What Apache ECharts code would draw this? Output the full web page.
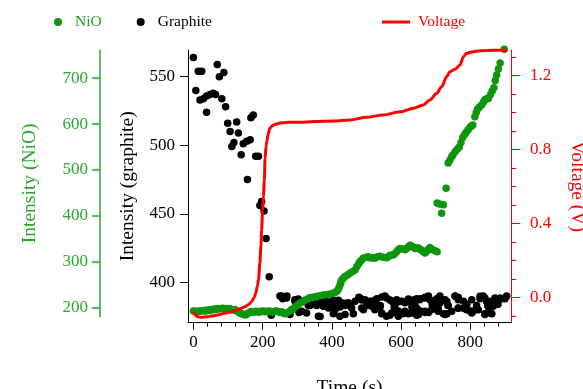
<!DOCTYPE html>
<html>
<head>
<meta charset="utf-8">
<script src="https://cdn.jsdelivr.net/npm/echarts@6/dist/echarts.min.js"></script>
<style>
  html, body { margin: 0; padding: 0; background: #ffffff; }
  #chart { width: 583px; height: 389px; }
</style>
</head>
<body>
<div id="chart"></div>
<script>
// ---- Measured series -------------------------------------------------------
// NiO peak intensity (left, green axis) vs time in seconds
const nioTime = [
  0, 5, 10, 15, 20, 25, 30, 35, 40, 45, 50, 55, 60, 65, 70, 75, 80, 85, 90, 95,
  100, 105, 110, 115, 120, 125, 130, 135, 140, 145, 150, 155, 160, 165, 170, 175,
  180, 185, 190, 195, 200, 205, 210, 215, 220, 225, 230, 235, 240, 245, 250, 255,
  260, 265, 270, 279, 287, 294, 301, 308, 315, 322, 330, 337, 344, 351, 358, 366,
  373, 380, 387, 395, 402, 409, 414, 418, 421, 424, 426, 428, 433, 438, 445, 452,
  460, 467, 472, 477, 481, 486, 491, 500, 505, 510, 515, 520, 525, 532, 539, 548,
  558, 563, 568, 577, 582, 587, 592, 597, 606, 611, 616, 621, 626, 630, 635, 640,
  645, 650, 655, 660, 664, 669, 674, 678, 683, 690, 698, 704,
  704, 711, 717, 722, 730, 736, 741, 746, 750, 756, 762, 768, 773, 778, 783, 787,
  793, 799, 803, 807, 813, 817, 821, 827, 833, 838, 842, 847, 852, 858, 863, 868,
  872, 876, 881, 886, 898
];
const nioIntensity = [
  193, 192, 191, 193, 192, 193, 194, 193, 195, 194, 196, 195, 197, 196, 198, 197, 198, 199, 197, 198,
  197, 198, 196, 195, 196, 193, 191, 188, 187, 185, 184, 186, 189, 191, 191, 190,
  192, 191, 190, 192, 193, 191, 192, 191, 193, 191, 190, 192, 193, 191, 190, 191,
  188, 187, 189, 193, 197, 202, 206, 210, 213, 216, 219, 222, 222, 224, 225, 226,
  227, 228, 229, 230, 231, 233, 236, 239, 245, 250, 255, 260, 264, 268, 271, 275,
  279, 282, 289, 295, 300, 304, 308, 310, 311, 309, 309, 308, 308, 311, 312, 310,
  309, 311, 314, 315, 318, 322, 326, 329, 328, 326, 329, 333, 336, 334, 332, 329,
  330, 330, 327, 325, 322, 319, 323, 326, 331, 327, 324, 322,
  428, 426, 406, 424, 460, 515, 522, 529, 533, 540, 545, 550, 560, 571, 577, 581,
  587, 593, 596, 598, 616, 625, 633, 638, 642, 648, 653, 655, 656, 664, 672, 679,
  695, 707, 720, 733, 763
];

// Graphite peak intensity (inner, black axis) vs time in seconds
const graphiteTime = [
  0, 7, 14, 19, 24, 29, 38, 38, 48, 57, 64, 69, 75, 82, 88, 93, 99, 106, 111, 117,
  125, 130, 138, 144, 154, 156, 164, 166, 173, 180, 188, 192, 197, 204, 210, 219,
  225, 250, 258, 270, 284, 294, 298, 305, 322, 332, 346, 356, 366, 366, 375, 385,
  404, 404, 409, 424, 438, 447, 462, 478, 486, 491, 515, 525, 530, 539, 544, 553,
  568, 568, 582, 587, 592, 602, 606, 611, 621, 626, 631, 635, 635, 645, 645, 645,
  655, 655, 669, 669, 679, 679, 698, 703, 707, 712, 722, 722, 732, 732, 736, 756,
  765, 765, 780, 789, 799, 809, 818, 828, 837, 842, 847, 852, 862, 862, 871, 881,
  890, 900, 905,
  255, 269, 293, 303, 346, 370, 385, 404, 419, 433, 448, 467, 481, 496, 510, 524,
  544, 558, 573, 587, 602, 621, 635, 654, 669, 683, 698, 712, 727, 756, 765, 780,
  804, 828, 842, 857, 871, 886, 900,
  279, 313, 327, 361, 375, 390, 409, 423, 438, 457, 486, 515, 524, 544, 558, 573,
  592, 611, 630, 650, 669, 688, 707, 727, 746, 765, 784, 804, 823, 842, 857, 866,
  337, 395, 452, 500, 540, 580, 640, 690, 735, 790, 850, 880
];
const graphiteIntensity = [
  564, 540, 554, 533, 554, 534, 536, 524, 537, 538, 537, 559, 550, 534, 553, 528, 516, 510, 499, 502,
  517, 509, 493, 501, 503, 475, 504, 520, 522, 492, 492, 456, 459, 452, 432, 404,
  376, 390, 388, 390, 380, 386, 385, 378, 386, 383, 385, 383, 375, 385, 386, 383,
  387, 377, 383, 382, 383, 385, 377, 389, 387, 380, 386, 385, 388, 382, 377, 390,
  376, 387, 381, 385, 379, 386, 377, 385, 377, 386, 382, 387, 378, 388, 376, 381,
  388, 379, 389, 378, 390, 378, 386, 388, 381, 390, 387, 377, 386, 377, 383, 390,
  389, 381, 381, 380, 379, 379, 383, 388, 390, 377, 386, 382, 377, 385, 386, 387,
  388, 388, 390,
  390, 388.5, 387.3, 387.8, 388.5, 387.3, 386.1, 386.1, 386.9, 384.9, 383.7, 386.1, 388.5, 387.3, 386.1, 386.9,
  389.3, 388.5, 386.1, 387.3, 386.1, 387.8, 386.1, 387.3, 388.5, 387.3, 386.1, 384.9, 387.3, 389.8, 387.3, 386.1,
  387.3, 389.8, 388.5, 386.1, 388.5, 388.5, 388.5,
  376.4, 378.8, 377.6, 375.2, 382.5, 381.2, 380, 375.2, 376.4, 381.2, 381.2, 382.5, 380, 377.6, 375.2, 377.6,
  375.2, 378.8, 377.6, 376.4, 378.8, 380, 378.8, 376.4, 378.8, 381.2, 381.2, 377.6, 380, 376.4, 377.6, 382.5,
  383, 384, 383, 383, 383, 382, 383, 384, 383, 384, 383, 384
];

// Cell voltage (right, red axis) vs time in seconds
const voltageTime = [
  0, 5, 10, 16, 24, 40, 53, 70, 91, 105, 120, 135, 149, 160, 168, 175, 180, 185,
  188, 192, 195, 197, 200, 202, 205, 207, 210, 212, 216, 221, 228, 236, 255, 279,
  308, 350, 404, 452, 500, 548, 597, 635, 664, 683, 703, 717, 732, 741, 756, 770,
  780, 789, 808, 828, 870, 905
];
const voltage = [
  -0.076, -0.092, -0.100, -0.104, -0.106, -0.103, -0.099, -0.093, -0.084, -0.078, -0.070, -0.060, -0.049, -0.036, -0.022, 0.000, 0.024, 0.065,
  0.096, 0.186, 0.280, 0.366, 0.470, 0.546, 0.636, 0.754, 0.820, 0.843, 0.885, 0.916, 0.930, 0.937, 0.946, 0.948,
  0.948, 0.952, 0.955, 0.961, 0.975, 0.988, 1.005, 1.024, 1.042, 1.069, 1.105, 1.141, 1.195, 1.222, 1.235, 1.258,
  1.303, 1.321, 1.330, 1.335, 1.337, 1.339
];

// ---- Tick positions ----------------------------------------------------------
const timeTicks = [0, 200, 400, 600, 800];
const timeMinorTicks = [40, 80, 120, 160, 240, 280, 320, 360, 440, 480, 520, 560, 640, 680, 720, 760, 840, 880];
const graphiteTicks = [400, 450, 500, 550];
const nioTicks = [200, 300, 400, 500, 600, 700];
const voltageTicks = [0, 0.4, 0.8, 1.2];
const voltageMinorTicks = [-0.1, 0.1, 0.2, 0.3, 0.5, 0.6, 0.7, 0.9, 1.0, 1.1, 1.3];

// ---- Styling -----------------------------------------------------------------
const FONT = '"Liberation Serif", "Times New Roman", serif';
const GREEN_DOT = '#0c960c';
const GREEN_AXIS = '#2aa82a';
const RED = '#ff0000';

const zip = (xs, ys) => xs.map((x, i) => [x, ys[i]]);

const chart = echarts.init(document.getElementById('chart'), null, { renderer: 'canvas' });

const labelStyle = (color) => ({ fontFamily: FONT, fontSize: 17, color: color });
const nameStyle = (color) => ({ fontFamily: FONT, fontSize: 19.5, color: color });

chart.setOption({
  animation: false,
  backgroundColor: '#ffffff',
  legend: [
    {
      left: 49, top: 9,
      itemWidth: 24, itemHeight: 8, itemGap: 35,
      icon: 'circle',
      textStyle: { fontFamily: FONT, fontSize: 15.5, color: '#000' },
      data: [
        { name: 'NiO', textStyle: { color: '#1f9e1f' } },
        { name: 'Graphite' }
      ]
    },
    {
      left: 377, top: 9,
      itemWidth: 28, itemHeight: 3,
      icon: 'rect',
      textStyle: { fontFamily: FONT, fontSize: 15.5, color: RED, padding: [0, 0, 0, 3] },
      data: [{ name: 'Voltage' }]
    }
  ],
  grid: [
    { left: 188, top: 50, width: 323, height: 272.7, outerBoundsMode: 'none', containLabel: false },
    { left: 100, top: 50, width: 1, height: 266.7, outerBoundsMode: 'none', containLabel: false }
  ],
  xAxis: [
    {
      gridIndex: 0, type: 'value', min: -15.6, max: 917.4, position: 'bottom',
      axisLine: { onZero: false, lineStyle: { color: '#000', width: 1 } },
      axisTick: { customValues: timeTicks, length: 7, lineStyle: { color: '#000' } },
      axisLabel: { customValues: timeTicks, margin: 11, ...labelStyle('#000') },
      splitLine: { show: false },
      name: 'Time (s)', nameLocation: 'middle', nameGap: 55,
      nameTextStyle: nameStyle('#000')
    },
    {
      gridIndex: 0, type: 'value', min: -15.6, max: 917.4, position: 'bottom',
      axisLine: { show: false, onZero: false },
      axisTick: { customValues: timeMinorTicks, length: 4, lineStyle: { color: '#000' } },
      axisLabel: { show: false },
      splitLine: { show: false }
    },
    { gridIndex: 1, type: 'value', min: 0, max: 1, show: false }
  ],
  yAxis: [
    {
      // graphite intensity
      gridIndex: 0, type: 'value', min: 370.5, max: 569.5, position: 'left',
      axisLine: { show: true, onZero: false, lineStyle: { color: '#000', width: 1 } },
      axisTick: { customValues: graphiteTicks, length: 8, lineStyle: { color: '#000' } },
      axisLabel: { customValues: graphiteTicks, margin: 13, ...labelStyle('#000') },
      splitLine: { show: false },
      name: 'Intensity (graphite)', nameLocation: 'middle', nameRotate: 90, nameGap: 50,
      nameTextStyle: nameStyle('#000')
    },
    {
      // NiO intensity scale used by the data (same pixel scale as the green axis)
      gridIndex: 0, type: 'value', min: 167.3, max: 761.4, show: false,
      axisLine: { onZero: false }
    },
    {
      // voltage, major ticks and labels
      gridIndex: 0, type: 'value', min: -0.1351, max: 1.339, position: 'right',
      axisLine: { show: true, onZero: false, lineStyle: { color: RED, width: 1 } },
      axisTick: { customValues: voltageTicks, length: 9, lineStyle: { color: RED } },
      axisLabel: { customValues: voltageTicks, margin: 19, formatter: (v) => v.toFixed(1), ...labelStyle(RED) },
      splitLine: { show: false },
      name: 'Voltage (V)', nameLocation: 'middle', nameRotate: -90, nameGap: 56,
      nameTextStyle: nameStyle(RED)
    },
    {
      // voltage, minor ticks
      gridIndex: 0, type: 'value', min: -0.1351, max: 1.339, position: 'right',
      axisLine: { show: false, onZero: false },
      axisTick: { customValues: voltageMinorTicks, length: 5, lineStyle: { color: RED } },
      axisLabel: { show: false },
      splitLine: { show: false }
    },
    {
      // free-standing NiO axis
      gridIndex: 1, type: 'value', min: 180.4, max: 761.4, position: 'left',
      axisLine: { show: true, onZero: false, lineStyle: { color: GREEN_AXIS, width: 1.5 } },
      axisTick: { customValues: nioTicks, length: 8, lineStyle: { color: GREEN_AXIS, width: 1.5 } },
      axisLabel: { customValues: nioTicks, margin: 12, ...labelStyle(GREEN_AXIS) },
      splitLine: { show: false },
      name: 'Intensity (NiO)', nameLocation: 'middle', nameRotate: 90, nameGap: 60,
      nameTextStyle: nameStyle(GREEN_AXIS)
    }
  ],
  series: [
    {
      name: 'Graphite', type: 'scatter', xAxisIndex: 0, yAxisIndex: 0,
      data: zip(graphiteTime, graphiteIntensity),
      symbol: 'circle', symbolSize: 7.5, clip: false,
      itemStyle: { color: '#000000', opacity: 1 }, z: 2
    },
    {
      name: 'NiO', type: 'scatter', xAxisIndex: 0, yAxisIndex: 1,
      data: zip(nioTime, nioIntensity),
      symbol: 'circle', symbolSize: 7.5, clip: false,
      itemStyle: { color: GREEN_DOT, opacity: 1 }, z: 3
    },
    {
      name: 'Voltage', type: 'line', xAxisIndex: 0, yAxisIndex: 2,
      data: zip(voltageTime, voltage),
      showSymbol: false, symbol: 'none', smooth: 0.3, smoothMonotone: 'x', clip: false,
      lineStyle: { color: RED, width: 3 },
      itemStyle: { color: RED }, z: 4
    }
  ]
});
</script>
</body>
</html>
